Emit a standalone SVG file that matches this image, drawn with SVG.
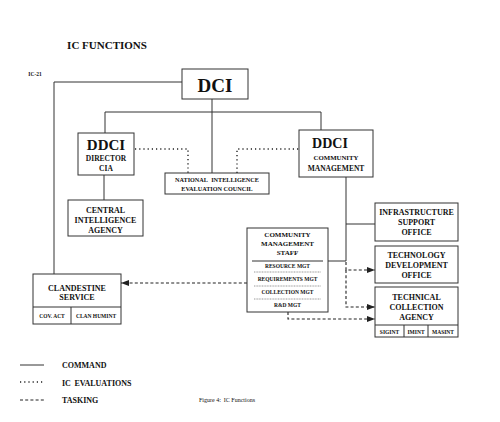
<svg xmlns="http://www.w3.org/2000/svg" width="500" height="422" viewBox="0 0 500 422">
<defs>
<marker id="arr" markerWidth="8" markerHeight="6" refX="8" refY="3" orient="auto" markerUnits="userSpaceOnUse">
<path d="M0,0 L8,3 L0,6 Z" fill="#222"/>
</marker>
<style>
.box{fill:#fff;stroke:#333;stroke-width:1}
.cmd{fill:none;stroke:#333;stroke-width:1}
.eval{fill:none;stroke:#222;stroke-width:1.4;stroke-dasharray:1.2 3}
.task{fill:none;stroke:#222;stroke-width:1.1;stroke-dasharray:3 2.2}
.sep{fill:none;stroke:#555;stroke-width:0.6;stroke-dasharray:1 0.6}
text{font-family:"Liberation Serif","Times New Roman",serif;font-weight:bold;fill:#111;text-anchor:middle}
text.l{text-anchor:start}
text.n{font-weight:normal}
</style>
</defs>
<rect width="500" height="422" fill="#fff"/>
<text x="107" y="49" font-size="11">IC FUNCTIONS</text>
<text x="35" y="76" font-size="5.5">IC-21</text>

<g id="connectors">
<polyline class="cmd" points="182,82 54,82 54,274"/>
<line class="cmd" x1="212" y1="99" x2="212" y2="173"/>
<polyline class="cmd" points="105,133 105,112 321,112 321,130"/>
<line class="cmd" x1="104" y1="175" x2="104" y2="201"/>
<polyline class="cmd" points="346,177 346,261 328,261"/>
<line class="cmd" x1="346" y1="224" x2="375" y2="224"/>
<polyline class="eval" points="135,149 188,149 188,173"/>
<polyline class="eval" points="237,173 237,149 299,149"/>
<line class="task" x1="247" y1="283" x2="121" y2="283" marker-end="url(#arr)"/>
<polyline class="task" points="346,262 346,270 375,270" marker-end="url(#arr)"/>
<polyline class="task" points="346,270 346,307 375,307" marker-end="url(#arr)"/>
<polyline class="task" points="288,312 288,319 375,319" marker-end="url(#arr)"/>
</g>

<g id="dci">
<rect class="box" x="182" y="69" width="66" height="30"/>
<text x="215" y="92" font-size="19">DCI</text>
</g>

<g id="ddci-dir">
<rect class="box" x="78" y="133" width="56" height="42"/>
<text x="106" y="150" font-size="15">DDCI</text>
<text x="106" y="161" font-size="7.5">DIRECTOR</text>
<text x="106" y="171" font-size="7.5">CIA</text>
</g>

<g id="niec">
<rect class="box" x="165" y="173" width="104" height="21"/>
<text x="217" y="182" font-size="6.2" word-spacing="2">NATIONAL INTELLIGENCE</text>
<text x="217" y="191" font-size="6.2">EVALUATION COUNCIL</text>
</g>

<g id="ddci-cm">
<rect class="box" x="299" y="130" width="74" height="47"/>
<text x="330" y="148" font-size="14">DDCI</text>
<text x="336" y="160" font-size="6.8">COMMUNITY</text>
<text x="336" y="171" font-size="7.5">MANAGEMENT</text>
</g>

<g id="cia">
<rect class="box" x="68" y="200" width="75" height="36"/>
<text x="105.5" y="213" font-size="8">CENTRAL</text>
<text x="105.5" y="223" font-size="8">INTELLIGENCE</text>
<text x="105.5" y="233" font-size="8">AGENCY</text>
</g>

<g id="cs">
<rect class="box" x="33" y="274" width="88" height="50"/>
<line class="cmd" x1="33" y1="307" x2="121" y2="307"/>
<line class="cmd" x1="71" y1="307" x2="71" y2="324"/>
<text x="77" y="291" font-size="8">CLANDESTINE</text>
<text x="77" y="300" font-size="8">SERVICE</text>
<text x="52" y="318" font-size="5.5">COV. ACT</text>
<text x="96" y="318" font-size="5.5">CLAN HUMINT</text>
</g>

<g id="cms">
<rect class="box" x="247" y="228" width="81" height="84"/>
<text x="287.5" y="237" font-size="7">COMMUNITY</text>
<text x="287.5" y="246" font-size="7">MANAGEMENT</text>
<text x="287.5" y="255" font-size="7">STAFF</text>
<line class="cmd" x1="252" y1="261" x2="323" y2="261" stroke-width="0.7"/>
<text x="287.5" y="268" font-size="5.5">RESOURCE MGT</text>
<line class="sep" x1="254" y1="272" x2="321" y2="272"/>
<text x="287.5" y="281" font-size="5.5">REQUIREMENTS MGT</text>
<line class="sep" x1="254" y1="286" x2="321" y2="286"/>
<text x="287.5" y="294" font-size="5.5">COLLECTION MGT</text>
<line class="sep" x1="254" y1="299" x2="321" y2="299"/>
<text x="287.5" y="307" font-size="5.5">R&amp;D MGT</text>
</g>

<g id="iso">
<rect class="box" x="375" y="203" width="83" height="38"/>
<text x="416.5" y="215" font-size="8">INFRASTRUCTURE</text>
<text x="416.5" y="225" font-size="8">SUPPORT</text>
<text x="416.5" y="235" font-size="8">OFFICE</text>
</g>

<g id="tdo">
<rect class="box" x="375" y="246" width="83" height="37"/>
<text x="416.5" y="258" font-size="8">TECHNOLOGY</text>
<text x="416.5" y="268" font-size="8">DEVELOPMENT</text>
<text x="416.5" y="278" font-size="8">OFFICE</text>
</g>

<g id="tca">
<rect class="box" x="375" y="287" width="83" height="50"/>
<line class="cmd" x1="375" y1="325" x2="458" y2="325"/>
<line class="cmd" x1="404" y1="325" x2="404" y2="337"/>
<line class="cmd" x1="428" y1="325" x2="428" y2="337"/>
<text x="416.5" y="300" font-size="8">TECHNICAL</text>
<text x="416.5" y="310" font-size="8">COLLECTION</text>
<text x="416.5" y="320" font-size="8">AGENCY</text>
<text x="389.5" y="334" font-size="5.5">SIGINT</text>
<text x="416" y="334" font-size="5.5">IMINT</text>
<text x="443" y="334" font-size="5.5">MASINT</text>
</g>

<g id="legend">
<line class="cmd" x1="20" y1="365" x2="44" y2="365"/>
<line class="eval" x1="20" y1="382" x2="44" y2="382"/>
<line class="task" x1="20" y1="400" x2="44" y2="400"/>
<text class="l" x="62" y="368" font-size="8">COMMAND</text>
<text class="l" x="62" y="386" font-size="8" word-spacing="1.5">IC EVALUATIONS</text>
<text class="l" x="62" y="403" font-size="8">TASKING</text>
<text class="l n" x="199" y="402" font-size="6">Figure 4:&#160; IC Functions</text>
</g>
</svg>
